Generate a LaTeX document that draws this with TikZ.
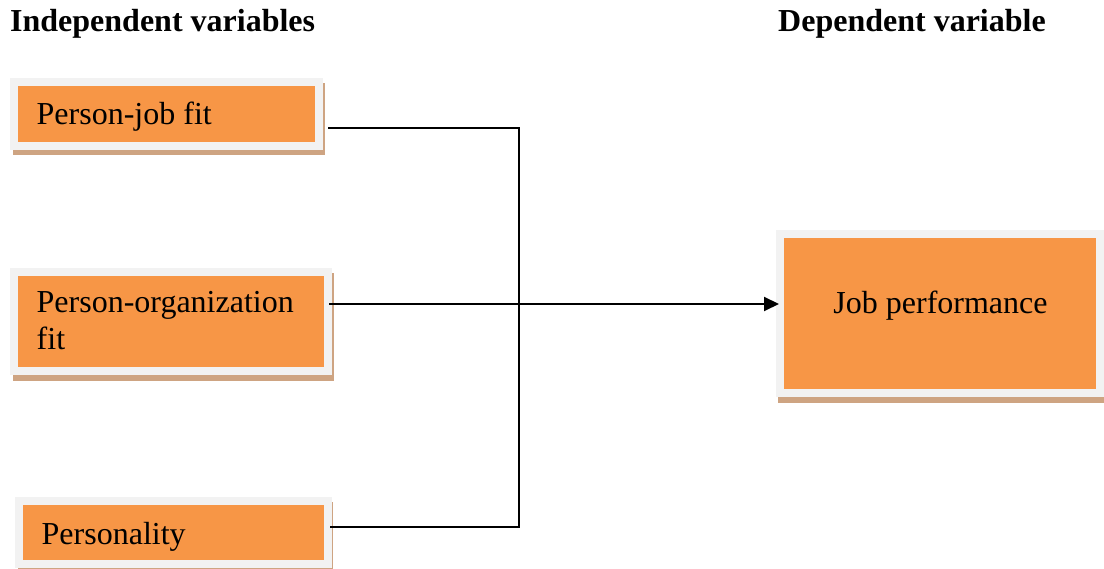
\documentclass[tikz,border=0pt]{standalone}
\usepackage{fontspec}
\setmainfont{Liberation Serif}
\usetikzlibrary{arrows.meta,backgrounds}
\definecolor{boxfill}{RGB}{247,150,70}
\definecolor{boxband}{RGB}{242,242,242}
\definecolor{boxshadow}{RGB}{206,164,130}
\tikzset{
  varbox/.style={rectangle, fill=boxfill, draw=boxband, line width=7.5pt, inner sep=0pt, outer sep=0pt},
  boxtext/.style={inner sep=0pt, anchor=base west, font=\fontsize{32}{37}\selectfont},
  headtext/.style={inner sep=0pt, anchor=base west, font=\fontsize{32}{37}\selectfont\bfseries},
  conn/.style={draw=black, line width=2pt},
}
\begin{document}
\begin{tikzpicture}[x=1pt,y=-1pt]
\useasboundingbox (0,0) rectangle (1104,569);

% headings
\node[headtext] (hind) at (10,32) {Independent variables};
\node[headtext] (hdep) at (778,32) {Dependent variable};

% boxes
\node[varbox, minimum width=305pt, minimum height=64pt] (b1) at (166.5,114) {};
\node[varbox, minimum width=314pt, minimum height=99pt] (b2) at (171,321.5) {};
\node[varbox, minimum width=309pt, minimum height=63pt] (b3) at (173.5,532.5) {};
\node[varbox, minimum width=320pt, minimum height=159pt] (b4) at (940,313.5) {};

% shadows
\begin{scope}[on background layer]
  \fill[boxshadow] ([xshift=-1pt,yshift=-1pt]b1.north west) rectangle ([xshift=6pt,yshift=-9pt]b1.south east);
  \fill[boxshadow] ([xshift=-1pt,yshift=-1pt]b2.north west) rectangle ([xshift=6pt,yshift=-10pt]b2.south east);
  \fill[boxshadow] ([xshift=-1pt,yshift=-1pt]b3.north west) rectangle ([xshift=5pt,yshift=-10pt]b3.south east);
  \fill[boxshadow] ([xshift=-2pt,yshift=-1pt]b4.north west) rectangle ([xshift=4pt,yshift=-10pt]b4.south east);
\end{scope}

% texts
\node[boxtext] (t1) at (36.5,125) {Person-job fit};
\node[boxtext] (t2a) at (36.5,313) {Person-organization};
\node[boxtext] (t2b) at (36.5,350) {fit};
\node[boxtext] (t3) at (41.5,544) {Personality};
\node[inner sep=0pt, anchor=base, font=\fontsize{32}{37}\selectfont] (t4) at (940.5,314) {Job performance};

% connectors
\coordinate (j) at (519,304);
\draw[conn] ([xshift=9pt,yshift=-14pt]b1.east) -| (j) |- ([xshift=2pt,yshift=5.5pt]b3.east);
\draw[conn, -{Triangle[length=15pt,width=14pt]}] ([xshift=1pt,yshift=17.5pt]b2.east) -- ([xshift=-1pt,yshift=9.5pt]b4.west);
\end{tikzpicture}
\end{document}
